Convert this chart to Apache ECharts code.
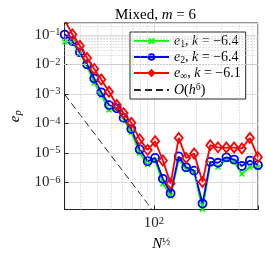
<!DOCTYPE html>
<html><head><meta charset="utf-8">
<script src="https://cdn.jsdelivr.net/npm/echarts@6/dist/echarts.min.js"></script>
<style>html,body{margin:0;padding:0;background:#fff}#c{width:266px;height:257px}</style>
</head><body><div id="c"></div><script>
// N^(1/2) sample points
const sqrtN = [23.35, 26.5, 29.9, 33.6, 37.8, 42.4, 48.1, 54.6, 61.0, 69.2, 79.3, 90.4, 102, 115.8, 131.3, 149.9, 169.2, 192.7, 220.9, 250.8, 284.4, 326.1, 369.7, 419.8, 478.2, 545.6];
const e1 = [0.0582, 0.0556, 0.0231, 8.51e-3, 2.42e-3, 8.91e-4, 2.89e-4, 3.11e-4, 1.36e-4, 4.98e-5, 9.82e-6, 4.07e-6, 5.51e-6, 9.08e-7, 3.41e-7, 5.94e-6, 2.80e-6, 2.18e-6, 1.22e-7, 4.29e-6, 3.33e-6, 5.94e-6, 4.99e-6, 1.92e-6, 3.33e-6, 3.18e-6];
const e2 = [0.104, 0.0628, 0.0262, 0.0101, 3.35e-3, 1.14e-3, 4.21e-4, 3.26e-4, 1.54e-4, 6.43e-5, 1.31e-5, 5.22e-6, 6.74e-6, 1.32e-6, 4.28e-7, 7.60e-6, 3.25e-6, 2.50e-6, 1.91e-7, 4.99e-6, 4.63e-6, 7.06e-6, 5.94e-6, 3.59e-6, 5.51e-6, 3.86e-6];
const einf = [0.321, 0.104, 0.0431, 0.0167, 7.10e-3, 3.10e-3, 1.19e-3, 4.21e-4, 2.24e-4, 1.05e-4, 2.88e-5, 1.26e-5, 2.48e-5, 5.51e-6, 9.08e-7, 3.22e-5, 6.74e-6, 9.53e-6, 1.03e-6, 1.83e-5, 1.54e-5, 1.52e-5, 1.52e-5, 1.41e-5, 3.22e-5, 7.16e-6];
// O(h^6) reference line end points
const refX = [23.35, 97];
const refY = [9.6e-4, 1.2e-7];
const names = ['e1', 'e2', 'einf', 'ref'];
const legendLabels = {
  e1: '{i|e}{sb|1}{n|, }{i|k}{n| = −6.4}',
  e2: '{i|e}{sb|2}{n|, }{i|k}{n| = −6.4}',
  einf: '{i|e}{sb|∞}{n|, }{i|k}{n| = −6.1}',
  ref: '{i|O}{n|(}{i|h}{sp|6}{n|)}'
};
const xRange = [23.3, 546];
const yRange = [1.2e-7, 0.256];

const F = 'Liberation Serif';
const C = '#262626';
function rich(fs) {
  const base = {fontFamily: F, fontWeight: 'normal', color: '#000'};
  return {
    n: Object.assign({}, base, {fontSize: fs, lineHeight: 16}),
    i: Object.assign({}, base, {fontSize: fs, lineHeight: 16, fontStyle: 'italic'}),
    b: Object.assign({}, base, {fontSize: fs, lineHeight: 16, color: C}),
    sb: Object.assign({}, base, {fontSize: fs * 0.7, lineHeight: 10, verticalAlign: 'bottom'}),
    sbi: Object.assign({}, base, {fontSize: fs * 0.7, lineHeight: 10, verticalAlign: 'bottom', fontStyle: 'italic'}),
    sp: Object.assign({}, base, {fontSize: fs * 0.7, lineHeight: 10, verticalAlign: 'top'}),
    spc: Object.assign({}, base, {fontSize: fs * 0.7, lineHeight: 10, verticalAlign: 'top', color: C})
  };
}
function powLabel(v) {
  const e = Math.log10(v);
  const r = Math.round(e);
  if (Math.abs(e - r) > 1e-6) return '';
  return '{b|10}{spc|' + String(r).replace('-', '−') + '}';
}
// minor grid positions (2..9 times each decade)
const xMinor = [], yMinor = [];
for (let d = 1; d <= 2; d++) for (let k = 2; k <= 9; k++) {
  const v = k * Math.pow(10, d);
  if (v > xRange[0] && v < xRange[1]) xMinor.push(v);
}
for (let d = -7; d <= -1; d++) for (let k = 2; k <= 9; k++) {
  const v = k * Math.pow(10, d);
  if (v > yRange[0] && v < yRange[1]) yMinor.push(v);
}
const pair = (xs, ys) => xs.map((x, i) => [x, ys[i]]);
const crossPath = 'path://M0,0L10,10M10,0L0,10';

const chart = echarts.init(document.getElementById('c'), null, {renderer: 'canvas'});
chart.setOption({
  animation: false,
  backgroundColor: '#fff',
  title: {
    text: '{n|Mixed, }{i|m}{n| = 6}',
    left: 110, top: 2,
    textStyle: {fontWeight: 'normal', rich: rich(15)}
  },
  grid: {left: 50, right: 8, top: 23, bottom: 40, show: true, borderColor: C, borderWidth: 1, backgroundColor: 'transparent'},
  legend: {
    data: names,
    orient: 'vertical',
    left: 130, top: 32,
    padding: [2, 5, 2, 3],
    itemWidth: 35, itemHeight: 7, itemGap: 1,
    backgroundColor: '#fff',
    borderColor: C, borderWidth: 1,
    formatter: n => legendLabels[n],
    textStyle: {rich: rich(14)}
  },
  xAxis: {
    type: 'log', min: xRange[0], max: xRange[1],
    name: '{i|N}{sp|½}', nameLocation: 'middle', nameGap: 27,
    nameTextStyle: {rich: rich(15)},
    axisLine: {lineStyle: {color: C}},
    axisTick: {inside: true, length: 4, lineStyle: {color: C}},
    axisLabel: {formatter: powLabel, rich: rich(15), margin: 6},
    splitLine: {show: true, lineStyle: {color: '#dcdcdc', width: 1}}
  },
  yAxis: {
    type: 'log', min: yRange[0], max: yRange[1],
    name: '{i|e}{sbi|p}', nameLocation: 'middle', nameGap: 37, nameRotate: 90,
    nameTextStyle: {rich: rich(15)},
    axisLine: {lineStyle: {color: C}},
    axisTick: {inside: true, length: 4, lineStyle: {color: C}},
    axisLabel: {formatter: powLabel, rich: rich(15), margin: 4},
    splitLine: {show: true, lineStyle: {color: '#dcdcdc', width: 1}}
  },
  series: [
    {
      name: 'grid', type: 'line', data: [], silent: true, z: 0,
      markLine: {
        silent: true, symbol: 'none', label: {show: false}, animation: false,
        lineStyle: {color: '#c8c8c8', type: [1, 2], width: 1},
        data: xMinor.map(v => ({xAxis: v})).concat(yMinor.map(v => ({yAxis: v})))
      }
    },
    {
      name: 'e1', type: 'line', data: pair(sqrtN, e1), z: 3,
      symbol: crossPath, symbolSize: 5,
      lineStyle: {color: '#00ff00', width: 1.8},
      itemStyle: {color: '#00ff00', borderColor: '#00ff00', borderWidth: 1.5}
    },
    {
      name: 'e2', type: 'line', data: pair(sqrtN, e2), z: 4,
      symbol: 'circle', symbolSize: 8,
      lineStyle: {color: '#0000ff', width: 1.8},
      itemStyle: {color: 'rgba(0,0,0,0)', borderColor: '#0000ff', borderWidth: 1.8}
    },
    {
      name: 'einf', type: 'line', data: pair(sqrtN, einf), z: 5,
      symbol: 'diamond', symbolSize: [8, 10],
      lineStyle: {color: '#ff0000', width: 1.8},
      itemStyle: {color: 'rgba(0,0,0,0)', borderColor: '#ff0000', borderWidth: 1.8}
    },
    {
      name: 'ref', type: 'line', data: pair(refX, refY), z: 2,
      symbol: 'none',
      lineStyle: {color: C, width: 1, type: [7, 4]},
      itemStyle: {color: 'rgba(0,0,0,0)', borderWidth: 0, opacity: 0}
    }
  ]
});
</script></body></html>
